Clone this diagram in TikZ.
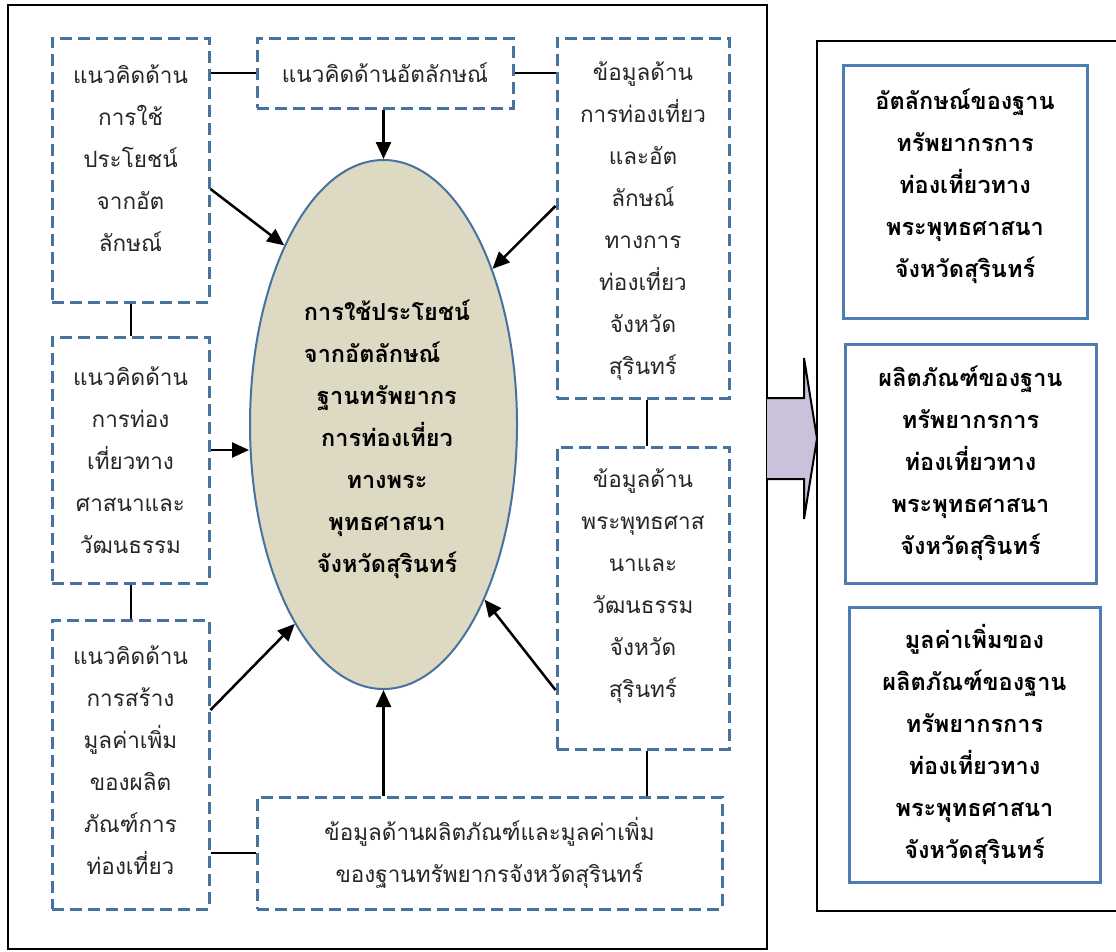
\documentclass[tikz,border=0pt]{standalone}
\usepackage{fontspec}
\newfontfamily\thai[Script=Thai]{Loma}
\usetikzlibrary{arrows.meta,shapes.geometric}
\definecolor{dashblue}{HTML}{46729F}
\definecolor{solidblue}{HTML}{4F7DB3}
\definecolor{corefill}{HTML}{DDD9C3}
\definecolor{arrowfill}{HTML}{CCC1DA}
\tikzset{
  thaifont/.style={font=\thai\fontsize{22.5}{42}\selectfont},
  boldfont/.style={font=\thai\bfseries\fontsize{23.5}{42}\selectfont},
  dbox/.style={draw=dashblue, line width=3pt, dash pattern=on 12pt off 6pt,
    inner sep=0pt, align=center, thaifont, text=black!85},
  txt/.style={inner sep=0pt, align=center, thaifont, text=black!85},
  rbox/.style={draw=solidblue, line width=3pt, inner sep=0pt, align=center, boldfont},
  frame/.style={draw=black, line width=2pt},
  conn/.style={line width=2pt},
  arr/.style={line width=2.5pt, -{Triangle[length=17pt,width=15pt]}},
}
\begin{document}
\begin{tikzpicture}[x=1pt,y=-1pt]
\useasboundingbox (0,0) rectangle (1116,951);
\fill[white] (0,0) rectangle (1116,951);
% frames
\draw[frame] (8,5) rectangle (767,949);
\draw[frame] (1125,41) -- (817,41) -- (817,911) -- (1125,911);
% dashed boxes
\node[dbox, minimum width=157pt, minimum height=264pt] (A) at (130.5,170) {};
\node[txt] (Atext) at (130.5,158.5)
  {แนวคิดด้าน\\การใช้\\ประโยชน์\\จากอัต\\ลักษณ์};
\node[dbox, minimum width=256pt, minimum height=70pt] (B) at (385,73)
  {แนวคิดด้านอัตลักษณ์};
\node[dbox, minimum width=172pt, minimum height=360pt] (C) at (643,218) {};
\node[txt] (Ctext) at (643,221.5)
  {ข้อมูลด้าน\\การท่องเที่ยว\\และอัต\\ลักษณ์\\ทางการ\\ท่องเที่ยว\\จังหวัด\\สุรินทร์};
\node[dbox, minimum width=157pt, minimum height=246pt] (D) at (130.5,460)
  {แนวคิดด้าน\\การท่อง\\เที่ยวทาง\\ศาสนาและ\\วัฒนธรรม};
\node[dbox, minimum width=157pt, minimum height=289pt] (E) at (130.5,764.5) {};
\node[txt] (Etext) at (130.5,760)
  {แนวคิดด้าน\\การสร้าง\\มูลค่าเพิ่ม\\ของผลิต\\ภัณฑ์การ\\ท่องเที่ยว};
\node[dbox, minimum width=172pt, minimum height=302pt] (F) at (643,598) {};
\node[txt] (Ftext) at (643,586.5)
  {ข้อมูลด้าน\\พระพุทธศาส\\นาและ\\วัฒนธรรม\\จังหวัด\\สุรินทร์};
\node[dbox, minimum width=465pt, minimum height=112pt] (G) at (489.5,853)
  {ข้อมูลด้านผลิตภัณฑ์และมูลค่าเพิ่ม\\ของฐานทรัพยากรจังหวัดสุรินทร์};
% core ellipse
\node[ellipse, draw=dashblue, line width=2pt, fill=corefill, inner sep=0pt,
  minimum width=267pt, minimum height=529pt] (core) at (383.5,424.5) {};
\node[inner sep=0pt, align=center, boldfont] (coretext) at (387,439)
  {การใช้ประโยชน์\\\rlap{จากอัตลักษณ์}\phantom{การใช้ประโยชน์}\\ฐานทรัพยากร\\การท่องเที่ยว\\ทางพระ\\พุทธศาสนา\\จังหวัดสุรินทร์};
% plain connectors
\draw[conn] (B.west) -- (B.west -| A.east);
\draw[conn] (B.east) -- (B.east -| C.west);
\draw[conn] (A.south) -- (D.north);
\draw[conn] (D.south) -- (E.north);
\draw[conn] (G.west) -- (G.west -| E.east);
\draw[conn] ([xshift=4pt]C.south) -- ([xshift=4pt]F.north);
\draw[conn] ([xshift=4pt]F.south) -- ([xshift=4pt]F.south |- G.north);
% arrows to core
\draw[arr] (core.north |- B.south) -- (core.north);
\draw[arr] (core.south |- G.north) -- (core.south);
\draw[arr] ([yshift=10pt]D.east) -- ([yshift=10pt]D.east -| core.west);
\draw[arr] ([yshift=-19pt]A.east) -- (core.119);
\draw[arr] ([yshift=12pt]C.west) -- (core.55);
\draw[arr] ([yshift=54.5pt]E.east) -- (core.246);
\draw[arr] ([yshift=-92pt]F.west) -- (core.300);
% block arrow
\fill[arrowfill] (767,398) -- (804,398) -- (804,358) -- (817,438.5) -- (804,519) -- (804,479) -- (767,479) -- cycle;
\draw[line width=2pt, line join=miter] (767,398) -- (804,398) -- (804,358) -- (817,438.5) -- (804,519) -- (804,479) -- (767,479);
% right boxes
\node[rbox, minimum width=244pt, minimum height=253pt] (R1) at (965,191.5) {};
\node[inner sep=0pt, align=center, boldfont] (R1text) at (965,186)
  {อัตลักษณ์ของฐาน\\ทรัพยากรการ\\ท่องเที่ยวทาง\\พระพุทธศาสนา\\จังหวัดสุรินทร์};
\node[rbox, minimum width=251pt, minimum height=239pt] (R2) at (970.5,463.5)
  {ผลิตภัณฑ์ของฐาน\\ทรัพยากรการ\\ท่องเที่ยวทาง\\พระพุทธศาสนา\\จังหวัดสุรินทร์};
\node[rbox, minimum width=251pt, minimum height=275pt] (R3) at (974.5,744.5)
  {มูลค่าเพิ่มของ\\ผลิตภัณฑ์ของฐาน\\ทรัพยากรการ\\ท่องเที่ยวทาง\\พระพุทธศาสนา\\จังหวัดสุรินทร์};
\end{tikzpicture}
\end{document}
